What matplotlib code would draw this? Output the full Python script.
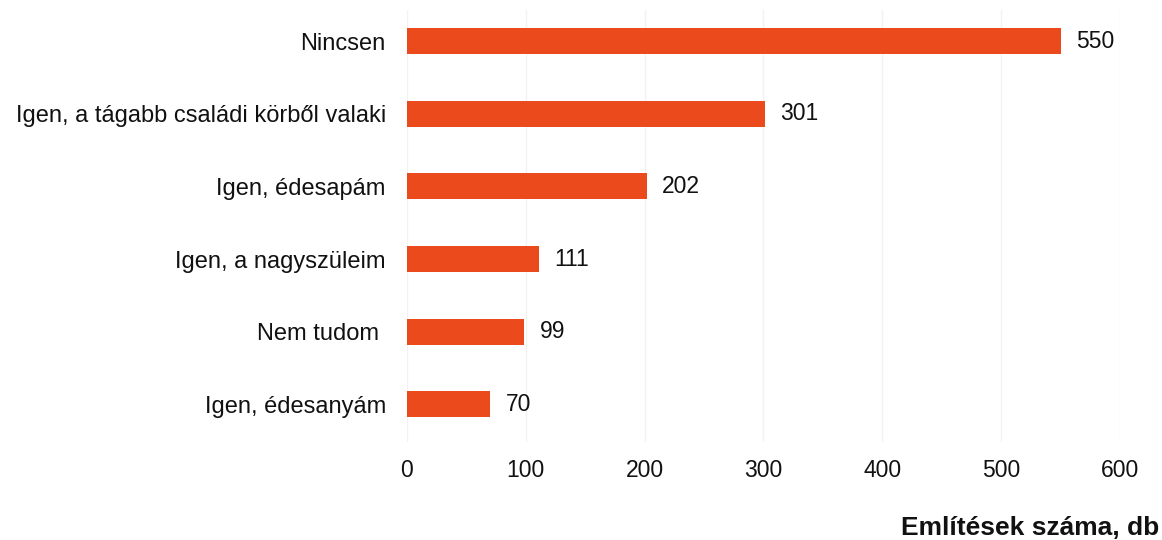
import matplotlib
matplotlib.use("Agg")
import matplotlib.pyplot as plt

categories = ["Nincsen", "Igen, a tágabb családi körből valaki", "Igen, édesapám",
              "Igen, a nagyszüleim", "Nem tudom ", "Igen, édesanyám"]
values = [550, 301, 202, 111, 99, 70]
xticks = [0, 100, 200, 300, 400, 500, 600]
xlabel = "Említések száma, db"

plt.rcParams['font.family'] = ['Liberation Sans', 'DejaVu Sans']

fig = plt.figure(figsize=(11.62, 5.40), dpi=100)
ax = fig.add_axes([0.350, 0.1815, 0.614, 0.80])

y = list(range(len(categories)))
ax.barh(y, values, height=0.36, color='#EA4A1C')
for yi, v in zip(y, values):
    ax.text(v + 13, yi, str(v), va='center', ha='left', fontsize=16.5, color='#111111')

ax.set_ylim(5.52, -0.43)
ax.set_xlim(0, 600)
ax.set_xticks(xticks)
ax.set_xticklabels([str(t) for t in xticks], fontsize=16.5, color='#111111')
ax.set_yticks(y)
ax.set_yticklabels(categories, fontsize=17, color='#111111')
ax.tick_params(axis='both', length=0)
ax.tick_params(axis='y', pad=15)
ax.tick_params(axis='x', pad=12)
ax.grid(axis='x', color='#F2F2F2', linewidth=1)
ax.set_axisbelow(True)
for s in ax.spines.values():
    s.set_visible(False)

fig.text(0.998, 0.010, xlabel, ha='right', va='baseline', fontsize=19, fontweight='bold', color='#111111')

fig.savefig("out.png", dpi=100)
